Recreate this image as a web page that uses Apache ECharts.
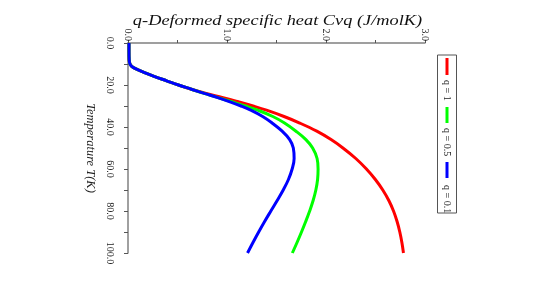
<!DOCTYPE html>
<html>
<head>
<meta charset="utf-8">
<script src="https://cdn.jsdelivr.net/npm/echarts@6/dist/echarts.min.js"></script>
<style>
html,body{margin:0;padding:0;background:#fff;}
#chart{width:545px;height:284px;}
</style>
</head>
<body>
<div id="chart"></div>
<script>
const temperatures = [0,4,8,10,11,12,14,16,18,20,22,24,26,28,30,32,35,38,42,46,50,55,60,65,70,75,80,85,90,95,100];
const cvQ1  = [0.01,0.01,0.012,0.02,0.035,0.065,0.16,0.27,0.39,0.51,0.64,0.79,0.96,1.115,1.263,1.399,1.576,1.729,1.907,2.051,2.171,2.301,2.4085,2.4985,2.5735,2.6345,2.682,2.718,2.7455,2.7665,2.7825];
const cvQ05 = [0.01,0.01,0.012,0.02,0.035,0.065,0.16,0.27,0.39,0.51,0.64,0.77,0.91,1.05,1.186,1.31,1.463,1.577,1.697,1.797,1.865,1.91,1.92,1.915,1.8975,1.87,1.835,1.795,1.7525,1.7075,1.66];
const cvQ01 = [0.01,0.01,0.012,0.02,0.035,0.065,0.16,0.27,0.39,0.51,0.64,0.77,0.906,1.03,1.142,1.24,1.36,1.453,1.557,1.633,1.67,1.678,1.658,1.6205,1.568,1.507,1.443,1.38,1.32,1.2625,1.2075];
const seriesNames = ['q = 1','q = 0.5','q = 0.1'];
const seriesColors = ['#ff0000','#00ff00','#0000ff'];
const seriesValues = [cvQ1, cvQ05, cvQ01];
const titleText = 'q-Deformed specific heat Cvq (J/molK)';
const tempAxisName = 'Temperature T(K)';

const serif = '"Liberation Serif","DejaVu Serif",serif';
const chart = echarts.init(document.getElementById('chart'));

const series = seriesValues.map((vals, i) => ({
  name: seriesNames[i],
  type: 'line',
  data: vals.map((v, k) => [v, temperatures[k]]),
  smooth: 0.4,
  showSymbol: false,
  lineStyle: {color: seriesColors[i], width: 3},
  itemStyle: {color: seriesColors[i]},
  z: 3 + i
}));

// Legend drawn as a rotated group (box 158 x 19 before rotation)
const legendChildren = [
  {type:'rect', shape:{x:0,y:0,width:158,height:19}, style:{fill:'#fff', stroke:'#555', lineWidth:1}}
];
const itemLayout = [{line:[3,20], text:25},{line:[52,68], text:73},{line:[107,123], text:130}];
seriesNames.forEach((n, i) => {
  legendChildren.push({type:'line', shape:{x1:itemLayout[i].line[0], y1:9.5, x2:itemLayout[i].line[1], y2:9.5}, style:{stroke:seriesColors[i], lineWidth:3}});
  legendChildren.push({type:'text', x:itemLayout[i].text, y:9.5, style:{text:n, fill:'#222', font:'10px ' + serif, verticalAlign:'middle'}});
});

chart.setOption({
  animation: false,
  backgroundColor: '#fff',
  grid: {left: 128, top: 43, right: 120, bottom: 31, containLabel: false},
  xAxis: {
    type: 'value', position: 'top', min: 0, max: 3, interval: 0.5,
    axisLine: {show: true, lineStyle: {color: '#808080', width: 1.5}},
    axisTick: {show: true, inside: false, length: 3, lineStyle: {color: '#555'}},
    splitLine: {show: false},
    axisLabel: {
      rotate: -90, margin: 2, fontFamily: serif, fontSize: 10, color: '#222',
      formatter: v => (Math.abs(v - Math.round(v)) < 1e-9 ? v.toFixed(1) : '')
    }
  },
  yAxis: {
    type: 'value', inverse: true, min: 0, max: 100, interval: 10,
    name: tempAxisName, nameLocation: 'middle', nameRotate: -90, nameGap: 27,
    nameTextStyle: {fontFamily: serif, fontStyle: 'italic', fontSize: 12.5, color: '#222'},
    axisLine: {show: true, lineStyle: {color: '#808080', width: 1.5}},
    axisTick: {show: true, length: 4, lineStyle: {color: '#555'}},
    splitLine: {show: false},
    axisLabel: {
      rotate: -90, margin: 13, fontFamily: serif, fontSize: 10, color: '#222',
      formatter: v => (v % 20 === 0 ? v.toFixed(1) : '')
    }
  },
  series: series,
  graphic: [
    {
      type: 'text', x: 277.5, y: 21, scaleX: 1.31,
      style: {text: titleText, font: 'italic 14px ' + serif, fill: '#111', align: 'center', verticalAlign: 'middle'}
    },
    {
      type: 'group', x: 456.5, y: 55, rotation: -Math.PI / 2,
      children: legendChildren
    }
  ]
});
</script>
</body>
</html>
